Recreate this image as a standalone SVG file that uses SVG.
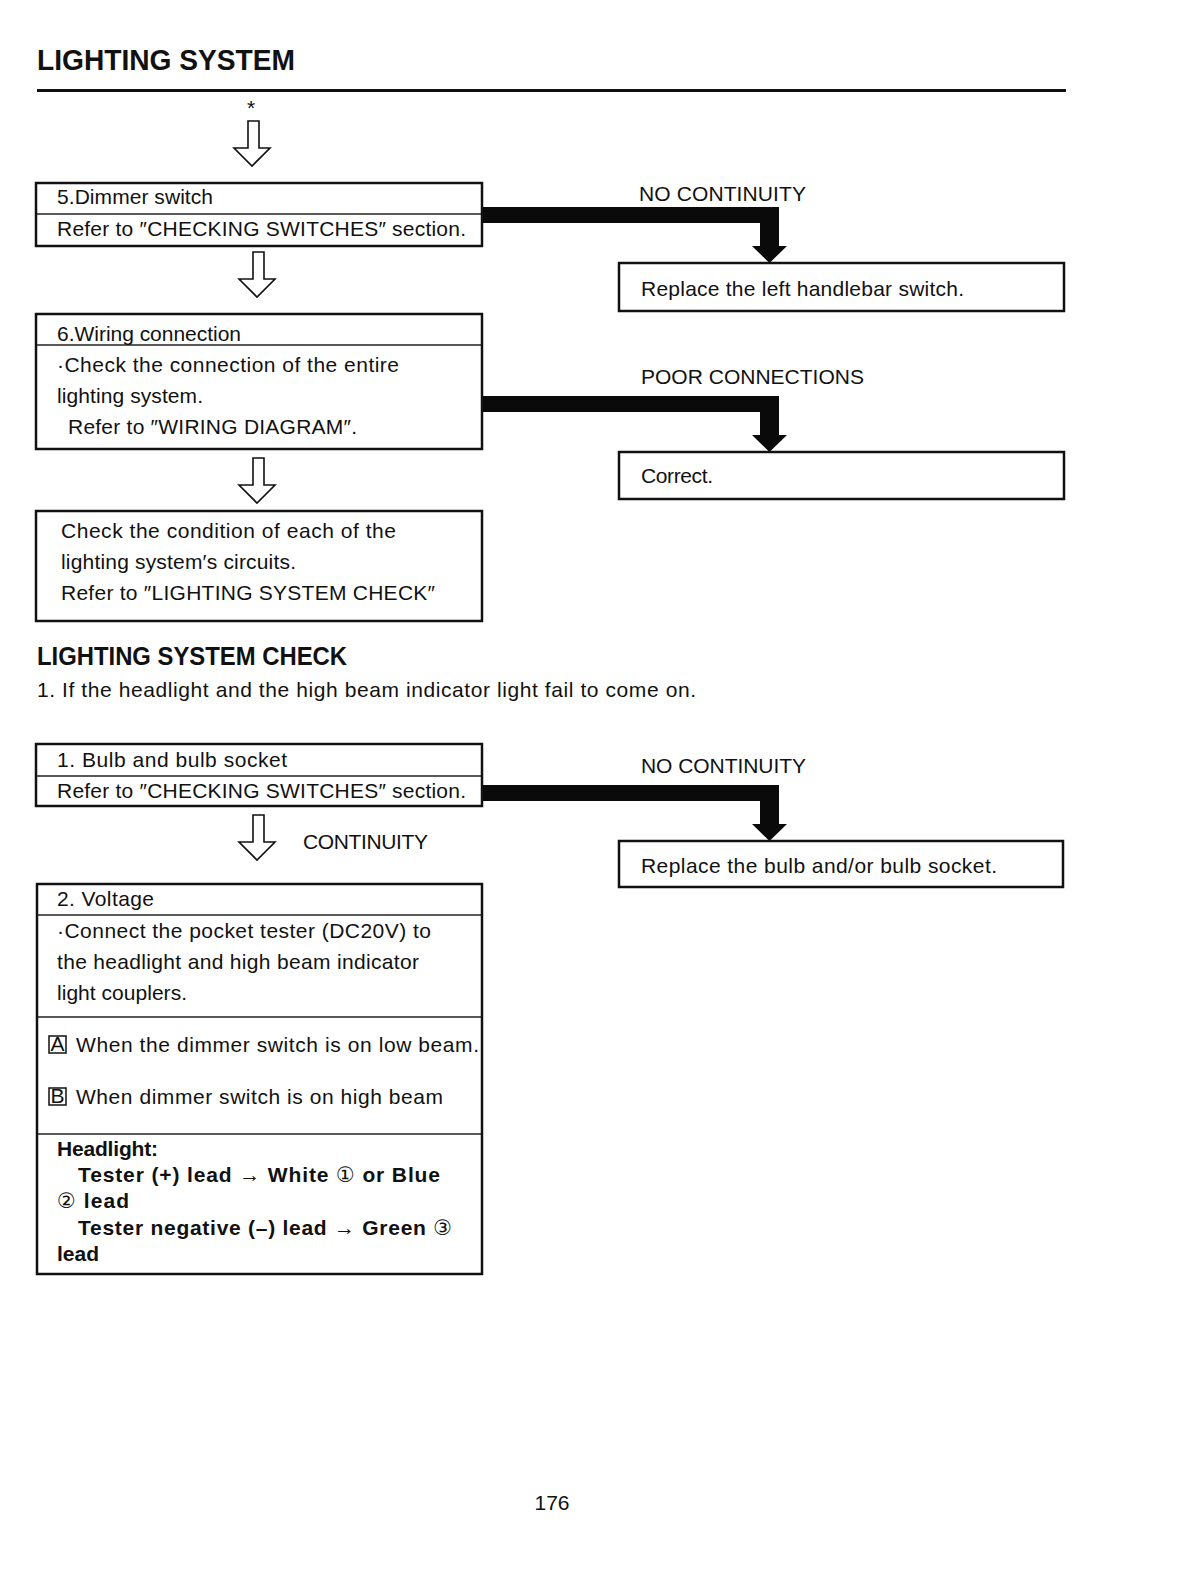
<svg xmlns="http://www.w3.org/2000/svg" xmlns:xlink="http://www.w3.org/1999/xlink" width="1191" height="1587" viewBox="0 0 1191 1587">
<style>
  .t{font-family:"Liberation Sans","DejaVu Sans",Arial,sans-serif;font-size:21px;fill:#111;}
  .b{font-family:"Liberation Sans","DejaVu Sans",Arial,sans-serif;font-size:21px;font-weight:bold;fill:#111;}
  .n{font-weight:normal;}
  .h{font-family:"Liberation Sans","DejaVu Sans",Arial,sans-serif;font-weight:bold;fill:#111;}
  .box{fill:#fff;stroke:#111;stroke-width:2.5;}
  .div{stroke:#222;stroke-width:1.5;fill:none;}
  .hollow{fill:#fff;stroke:#111;stroke-width:1.6;stroke-linejoin:miter;}
  .solid{fill:#0a0a0a;stroke:none;}
  .sq{fill:none;stroke:#111;stroke-width:1.5;}
</style>
<defs>
  <path id="harrow" class="hollow" d="M-4,-45 L7,-45 L7,-18 L18,-18 L0,0 L-18,-18 L-4,-18 Z"/>
</defs>
<rect width="1191" height="1587" fill="#fff"/>

<g id="title">
  <text class="h" x="37" y="70" font-size="29" textLength="258" lengthAdjust="spacingAndGlyphs">LIGHTING SYSTEM</text>
  <rect x="37" y="89" width="1029" height="3" fill="#111"/>
  <text class="t" x="247" y="115" font-size="15">*</text>
</g>

<g id="connectors">
  <use xlink:href="#harrow" href="#harrow" transform="translate(252,166)"/>
  <use xlink:href="#harrow" href="#harrow" transform="translate(257,297)"/>
  <use xlink:href="#harrow" href="#harrow" transform="translate(257,503)"/>
  <use xlink:href="#harrow" href="#harrow" transform="translate(257,860)"/>
  <path class="solid" d="M482,207 H779 V246 H787 L769.5,263 L752,246 H760 V223 H482 Z"/>
  <path class="solid" d="M482,396 H779 V435 H787 L769.5,452 L752,435 H760 V412 H482 Z"/>
  <path class="solid" d="M482,785 H779 V824 H787 L769.5,841 L752,824 H760 V801 H482 Z"/>
  <text class="t" x="639" y="201" textLength="167">NO CONTINUITY</text>
  <text class="t" x="641" y="384" textLength="223">POOR CONNECTIONS</text>
  <text class="t" x="641" y="773" textLength="165">NO CONTINUITY</text>
  <text class="t" x="303" y="849" textLength="125">CONTINUITY</text>
</g>

<g id="node-dimmer">
  <rect class="box" x="36" y="183" width="446" height="63"/>
  <line class="div" x1="37" y1="214" x2="481" y2="214"/>
  <text class="t" x="57" y="204" textLength="156">5.Dimmer switch</text>
  <text class="t" x="57" y="236" textLength="409">Refer to ″CHECKING SWITCHES″ section.</text>
</g>

<g id="node-replace-switch">
  <rect class="box" x="619" y="263" width="445" height="48"/>
  <text class="t" x="641" y="296" textLength="323">Replace the left handlebar switch.</text>
</g>

<g id="node-wiring">
  <rect class="box" x="36" y="314" width="446" height="135"/>
  <line class="div" x1="37" y1="345" x2="481" y2="345"/>
  <text class="t" x="57" y="341" textLength="184">6.Wiring connection</text>
  <text class="t" x="57" y="372" textLength="342">·Check the connection of the entire</text>
  <text class="t" x="57" y="403" textLength="146">lighting system.</text>
  <text class="t" x="68" y="434" textLength="289">Refer to ″WIRING DIAGRAM″.</text>
</g>

<g id="node-correct">
  <rect class="box" x="619" y="452" width="445" height="47"/>
  <text class="t" x="641" y="483" textLength="72">Correct.</text>
</g>

<g id="node-check-circuits">
  <rect class="box" x="36" y="511" width="446" height="110"/>
  <text class="t" x="61" y="538" textLength="335">Check the condition of each of the</text>
  <text class="t" x="61" y="569" textLength="235">lighting system′s circuits.</text>
  <text class="t" x="61" y="600" textLength="374">Refer to ″LIGHTING SYSTEM CHECK″</text>
</g>

<g id="section-check">
  <text class="h" x="37" y="665" font-size="25" textLength="310" lengthAdjust="spacingAndGlyphs">LIGHTING SYSTEM CHECK</text>
  <text class="t" x="37" y="697" textLength="659">1. If the headlight and the high beam indicator light fail to come on.</text>
</g>

<g id="node-bulb">
  <rect class="box" x="36" y="744" width="446" height="62"/>
  <line class="div" x1="37" y1="776" x2="481" y2="776"/>
  <text class="t" x="57" y="767" textLength="230">1. Bulb and bulb socket</text>
  <text class="t" x="57" y="798" textLength="409">Refer to ″CHECKING SWITCHES″ section.</text>
</g>

<g id="node-replace-bulb">
  <rect class="box" x="619" y="841" width="444" height="46"/>
  <text class="t" x="641" y="873" textLength="356">Replace the bulb and/or bulb socket.</text>
</g>

<g id="node-voltage">
  <rect class="box" x="37" y="884" width="445" height="390"/>
  <line class="div" x1="38" y1="915" x2="481" y2="915"/>
  <line class="div" x1="38" y1="1017" x2="481" y2="1017"/>
  <line class="div" x1="38" y1="1134" x2="481" y2="1134"/>
  <text class="t" x="57" y="906" textLength="97">2. Voltage</text>
  <text class="t" x="57" y="938" textLength="374">·Connect the pocket tester (DC20V) to</text>
  <text class="t" x="57" y="969" textLength="362">the headlight and high beam indicator</text>
  <text class="t" x="57" y="1000" textLength="130">light couplers.</text>
  <rect class="sq" x="49" y="1036" width="17" height="17"/>
  <text class="t" x="57.5" y="1051" font-size="15" text-anchor="middle">A</text>
  <text class="t" x="76" y="1052" textLength="403">When the dimmer switch is on low beam.</text>
  <rect class="sq" x="49" y="1088" width="17" height="17"/>
  <text class="t" x="57.5" y="1103" font-size="15" text-anchor="middle">B</text>
  <text class="t" x="76" y="1104" textLength="367">When dimmer switch is on high beam</text>
  <text class="b" x="57" y="1156" textLength="101">Headlight:</text>
  <text class="b" x="78" y="1182" textLength="362">Tester (+) lead <tspan class="n">→</tspan> White <tspan class="n">①</tspan> or Blue</text>
  <text class="b" x="57" y="1208" textLength="72"><tspan class="n">②</tspan> lead</text>
  <text class="b" x="78" y="1235" textLength="374">Tester negative (–) lead <tspan class="n">→</tspan> Green <tspan class="n">③</tspan></text>
  <text class="b" x="57" y="1261" textLength="42">lead</text>
</g>

<g id="page-number">
  <text class="t" x="552" y="1510" font-size="20" text-anchor="middle">176</text>
</g>
</svg>
